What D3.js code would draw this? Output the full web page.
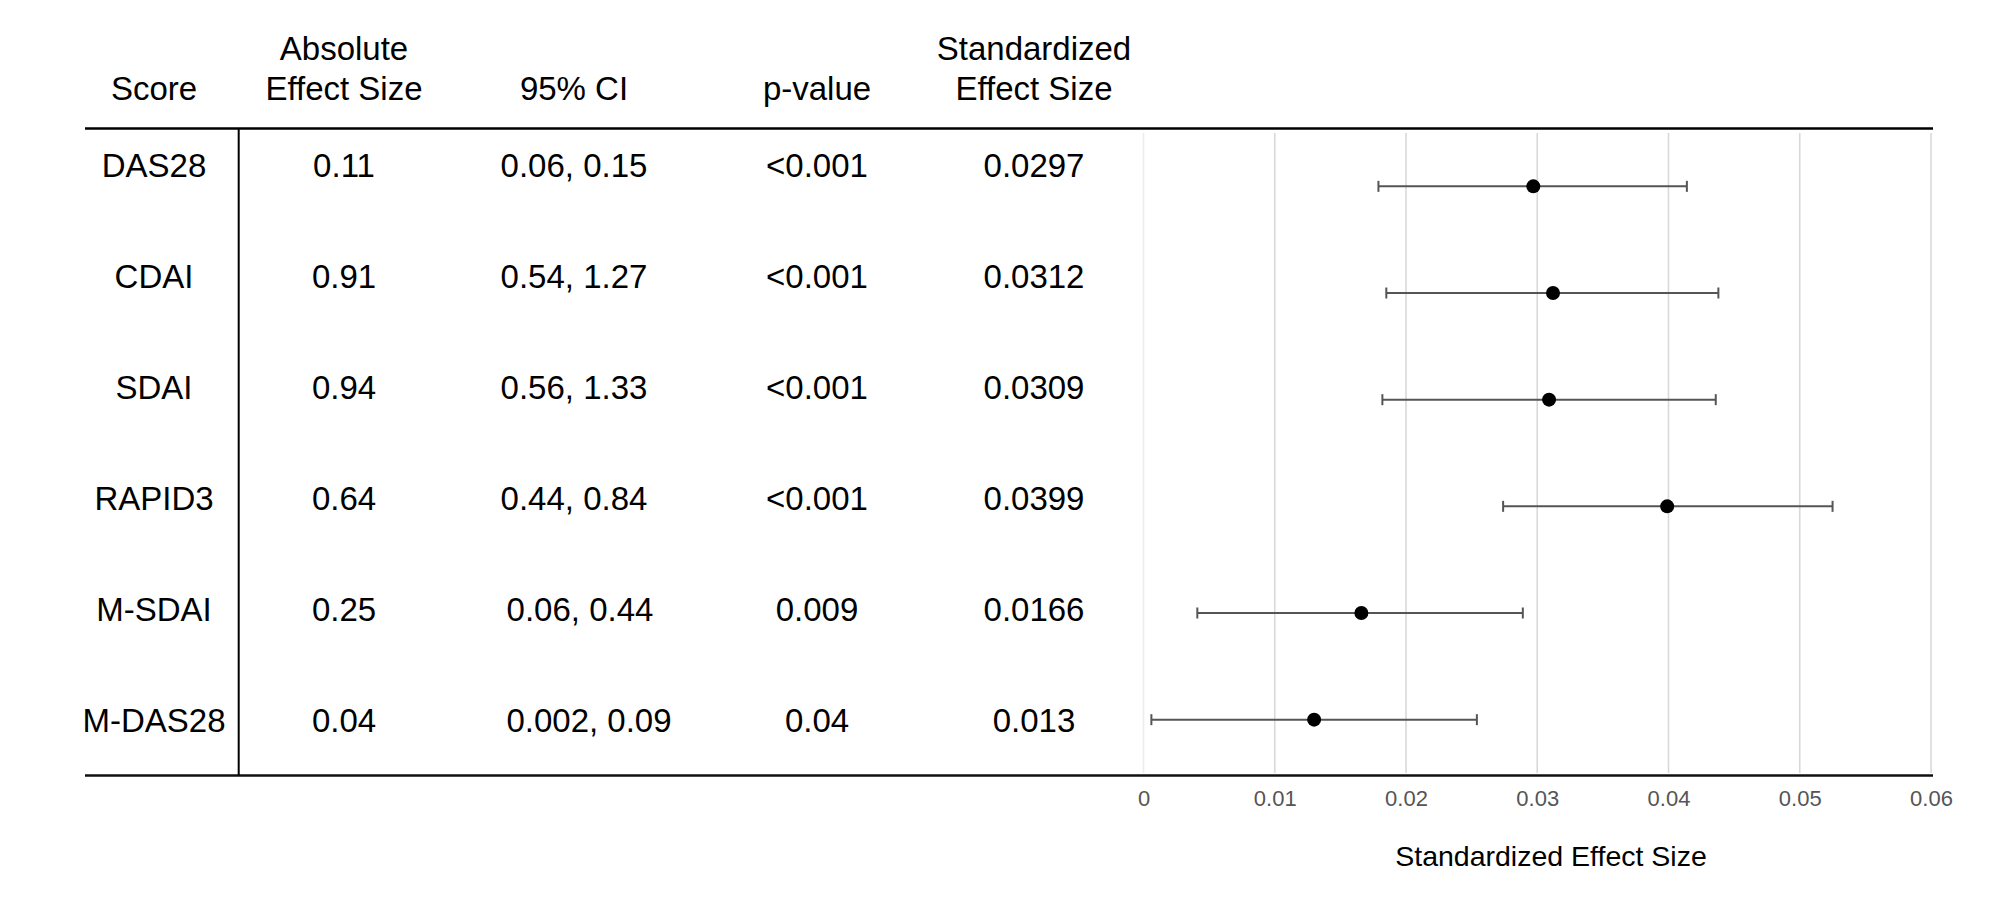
<!DOCTYPE html>
<html>
<head>
<meta charset="utf-8">
<script src="https://cdn.jsdelivr.net/npm/d3@7"></script>
<style>
  html, body { margin: 0; padding: 0; background: #fff; }
  svg { display: block; font-family: "Liberation Sans", Arial, Helvetica, sans-serif; }
</style>
</head>
<body>
<svg id="chart" width="1996" height="906"></svg>
<script>
// ---- data ----
const scores = ["DAS28", "CDAI", "SDAI", "RAPID3", "M-SDAI", "M-DAS28"];
const absoluteEffect = ["0.11", "0.91", "0.94", "0.64", "0.25", "0.04"];
const ciText = ["0.06, 0.15", "0.54, 1.27", "0.56, 1.33", "0.44, 0.84", "0.06, 0.44", "0.002, 0.09"];
const pValues = ["<0.001", "<0.001", "<0.001", "<0.001", "0.009", "0.04"];
const stdEffect = [0.0297, 0.0312, 0.0309, 0.0399, 0.0166, 0.013];
const stdEffectText = ["0.0297", "0.0312", "0.0309", "0.0399", "0.0166", "0.013"];
const stdLower = [0.0179, 0.0185, 0.0182, 0.0274, 0.0041, 0.0006];
const stdUpper = [0.0414, 0.0438, 0.0436, 0.0525, 0.0289, 0.0254];
const tickValues = [0, 0.01, 0.02, 0.03, 0.04, 0.05, 0.06];
const tickLabels = ["0", "0.01", "0.02", "0.03", "0.04", "0.05", "0.06"];
const headers = [
  ["", "Score"],
  ["Absolute", "Effect Size"],
  ["", "95% CI"],
  ["", "p-value"],
  ["Standardized", "Effect Size"]
];
const axisTitle = "Standardized Effect Size";

// ---- layout ----
const svg = d3.select("#chart");
svg.append("rect").attr("width", 1996).attr("height", 906).attr("fill", "#fff");

const colX = [154, 344, 574, 817, 1034];
const ciNudge = [0, 0, 0, 0, 6, 15];   // small horizontal offsets seen in the CI column
const tableLeft = 85, tableRight = 1933;
const topRuleY = 128.5, bottomRuleY = 775.5;
const plotTop = 133, plotBottom = 773;

const x = d3.scaleLinear().domain([0, 0.06]).range([1143.5, 1931]);
const yPlot = d3.scaleBand().domain(scores).range([plotTop, plotBottom]);
const yTable = d3.scalePoint().domain(scores).range([176.7, 731.7]);

// gridlines
svg.append("g").selectAll("line").data(tickValues).join("line")
  .attr("x1", d => x(d)).attr("x2", d => x(d))
  .attr("y1", plotTop).attr("y2", plotBottom)
  .attr("stroke", (d, i) => i === 0 ? "#ececec" : "#d9d9d9")
  .attr("stroke-width", 1.6);

// headers
const hdr = svg.append("g").attr("font-size", 33).attr("fill", "#000").attr("text-anchor", "middle");
headers.forEach((h, i) => {
  if (h[0]) hdr.append("text").attr("x", colX[i]).attr("y", 60).text(h[0]);
  hdr.append("text").attr("x", colX[i]).attr("y", 100).text(h[1]);
});

// rules
svg.append("line").attr("x1", tableLeft).attr("x2", tableRight)
  .attr("y1", topRuleY).attr("y2", topRuleY).attr("stroke", "#000").attr("stroke-width", 2.5);
svg.append("line").attr("x1", tableLeft).attr("x2", tableRight)
  .attr("y1", bottomRuleY).attr("y2", bottomRuleY).attr("stroke", "#111").attr("stroke-width", 2.5);
svg.append("line").attr("x1", 238.7).attr("x2", 238.7)
  .attr("y1", topRuleY).attr("y2", bottomRuleY).attr("stroke", "#000").attr("stroke-width", 2);

// table body
const columns = [scores, absoluteEffect, ciText, pValues, stdEffectText];
const body = svg.append("g").attr("font-size", 33).attr("fill", "#000").attr("text-anchor", "middle");
columns.forEach((col, ci) => {
  body.append("g").selectAll("text").data(col).join("text")
    .attr("x", (d, i) => colX[ci] + (ci === 2 ? ciNudge[i] : 0))
    .attr("y", (d, i) => yTable(scores[i]))
    .text(d => d);
});

// forest plot
const rows = scores.map((s, i) => ({ s, est: stdEffect[i], lo: stdLower[i], hi: stdUpper[i] }));
const cy = d => yPlot(d.s) + yPlot.bandwidth() / 2;
const fp = svg.append("g");
fp.selectAll("line.ci").data(rows).join("line").attr("class", "ci")
  .attr("x1", d => x(d.lo)).attr("x2", d => x(d.hi))
  .attr("y1", cy).attr("y2", cy)
  .attr("stroke", "#555").attr("stroke-width", 2);
fp.selectAll("line.capl").data(rows).join("line").attr("class", "capl")
  .attr("x1", d => x(d.lo)).attr("x2", d => x(d.lo))
  .attr("y1", d => cy(d) - 5.5).attr("y2", d => cy(d) + 5.5)
  .attr("stroke", "#555").attr("stroke-width", 2);
fp.selectAll("line.capr").data(rows).join("line").attr("class", "capr")
  .attr("x1", d => x(d.hi)).attr("x2", d => x(d.hi))
  .attr("y1", d => cy(d) - 5.5).attr("y2", d => cy(d) + 5.5)
  .attr("stroke", "#555").attr("stroke-width", 2);
fp.selectAll("circle").data(rows).join("circle")
  .attr("cx", d => x(d.est)).attr("cy", cy).attr("r", 7).attr("fill", "#000");

// x axis
const axis = d3.axisBottom(x).tickValues(tickValues).tickSize(0).tickPadding(15)
  .tickFormat((d, i) => tickLabels[i]);
const ag = svg.append("g").attr("transform", `translate(0,${bottomRuleY})`).call(axis);
ag.select(".domain").remove();
ag.selectAll("text").attr("font-size", 22).attr("fill", "#555")
  .attr("font-family", "'Liberation Sans', Arial, Helvetica, sans-serif");

// axis title
svg.append("text").attr("x", 1551).attr("y", 866).attr("text-anchor", "middle")
  .attr("font-size", 28.5).attr("fill", "#000").text(axisTitle);
</script>
</body>
</html>
